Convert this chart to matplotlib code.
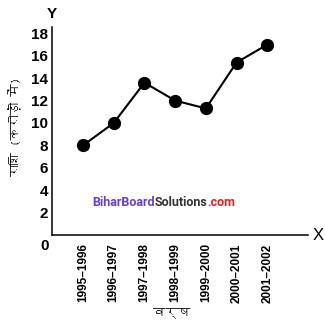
import matplotlib
matplotlib.use("Agg")
import matplotlib.pyplot as plt
from matplotlib import font_manager
from matplotlib.ft2font import FT2Font

years = ["1995–1996", "1996–1997", "1997–1998", "1998–1999", "1999–2000", "2000–2001", "2001–2002"]
values = [8.0, 10.0, 13.6, 12.0, 11.3, 15.4, 17.0]
y_ticks = [2, 4, 6, 8, 10, 12, 14, 16, 18]
y_label = "राशि (करोड़ों में)"
x_label = "वर्ष"

# find a font with Devanagari glyphs, if any
deva = None
for f in font_manager.fontManager.ttflist:
    try:
        cm = FT2Font(f.fname).get_charmap()
        if ord("र") in cm and ord("ष") in cm:
            deva = f.name
            break
    except Exception:
        pass
hfam = [deva, "DejaVu Sans"] if deva else ["DejaVu Sans"]

fig = plt.figure(figsize=(3.25, 3.23), dpi=100)
ax = fig.add_axes([0.16, 0.2724, 0.788, 0.644])
x = list(range(len(years)))
ax.plot(x, values, color="black", lw=1.5, marker="o", ms=8.5, mfc="black", mec="black")
ax.set_xlim(-1.01, 7.33)
ax.set_ylim(0, 18.57)
for s in ["top", "right"]:
    ax.spines[s].set_visible(False)
for s in ["left", "bottom"]:
    ax.spines[s].set_linewidth(1.1)
ax.set_yticks(y_ticks)
ax.set_yticklabels([str(t) for t in y_ticks], fontfamily="Liberation Sans", fontweight="bold", fontsize=11)
ax.set_xticks(x)
ax.set_xticklabels(years, rotation=90, fontfamily="Liberation Sans", fontweight="bold", fontsize=8.5)
ax.tick_params(axis="y", length=0, pad=3)
ax.tick_params(axis="x", length=0, pad=6)

fig.text(45/325, 1-246/323, "0", ha="center", va="center", fontfamily="Liberation Sans", fontweight="bold", fontsize=11)
fig.text(52/325, 1-14/323, "Y", ha="center", va="center", fontfamily="Liberation Sans", fontweight="bold", fontsize=11)
fig.text(318/325, 1-236/323, "X", ha="center", va="center", fontfamily="Liberation Sans", fontsize=12)
fig.text(15/325, 1-127/323, y_label, rotation=90, ha="center", va="center", family=hfam, fontweight="bold", fontsize=9)
fig.text(172/325, 1-313/323, x_label, ha="center", va="center", family=hfam, fontweight="bold", fontsize=9)

wm = dict(fontfamily="Roboto", fontweight="bold", fontsize=9)
t1 = fig.text(92/325, 1-202/323, "BiharBoard", ha="left", va="center", color="#6a3fc8", **wm)
t2 = ax.annotate("Solutions", xy=(1, 0), xycoords=t1, va="bottom", ha="left", color="#333333", **wm)
t3 = ax.annotate(".com", xy=(1, 0), xycoords=t2, va="bottom", ha="left", color="#e02020", **wm)

fig.savefig("out.png", dpi=100)
